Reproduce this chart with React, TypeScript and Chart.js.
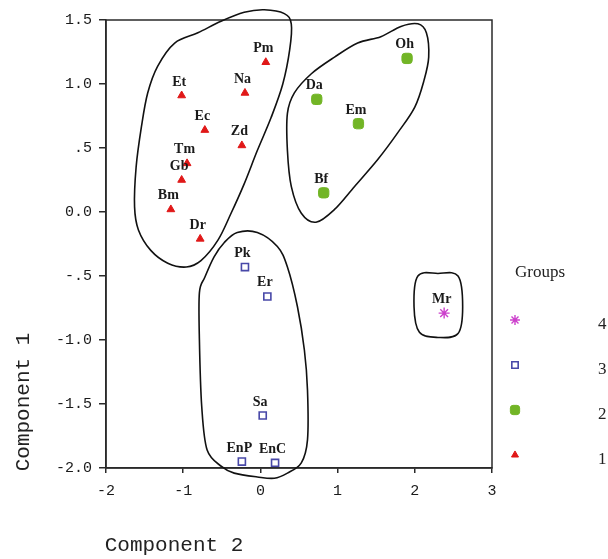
import React, { useEffect, useRef } from 'react';
import { Chart, registerables } from 'chart.js';
import { drawPoint } from 'chart.js/helpers';

Chart.register(...registerables);

// ---- data ----
const group1Names = ['Pm', 'Et', 'Na', 'Ec', 'Zd', 'Tm', 'Gb', 'Bm', 'Dr'];
const group1X = [0.07, -1.02, -0.2, -0.72, -0.24, -0.95, -1.02, -1.16, -0.78];
const group1Y = [1.17, 0.91, 0.93, 0.64, 0.52, 0.38, 0.25, 0.02, -0.21];

const group2Names = ['Oh', 'Da', 'Em', 'Bf'];
const group2X = [1.9, 0.73, 1.27, 0.82];
const group2Y = [1.2, 0.88, 0.69, 0.15];

const group3Names = ['Pk', 'Er', 'Sa', 'EnP', 'EnC'];
const group3X = [-0.2, 0.09, 0.03, -0.24, 0.19];
const group3Y = [-0.43, -0.66, -1.59, -1.95, -1.96];

const group4Names = ['Mr'];
const group4X = [2.38];
const group4Y = [-0.79];

const groupLabels = ['1', '2', '3', '4'];

const xTickValues = [-2, -1, 0, 1, 2, 3];
const yTickValues = [1.5, 1.0, 0.5, 0.0, -0.5, -1.0, -1.5, -2.0];
const yTickLabels = ['1.5', '1.0', '.5', '0.0', '-.5', '-1.0', '-1.5', '-2.0'];

// hand-drawn cluster outlines (data coordinates)
const outline1 = [
  [0.05, 1.58], [0.31, 1.55], [0.4, 1.47], [0.38, 1.27], [0.29, 1.0], [0.14, 0.74],
  [-0.04, 0.48], [-0.21, 0.22], [-0.38, -0.01], [-0.55, -0.22], [-0.77, -0.38],
  [-0.96, -0.43], [-1.2, -0.4], [-1.42, -0.3], [-1.58, -0.14], [-1.63, 0.04],
  [-1.61, 0.35], [-1.54, 0.67], [-1.46, 0.93], [-1.33, 1.14], [-1.11, 1.32],
  [-0.81, 1.4], [-0.51, 1.49], [-0.21, 1.56],
];
const outline2 = [
  [2.04, 1.47], [2.15, 1.4], [2.18, 1.21], [2.12, 1.03], [2.0, 0.82], [1.78, 0.62],
  [1.52, 0.41], [1.22, 0.2], [0.96, 0.02], [0.72, -0.08], [0.53, -0.01], [0.4, 0.2],
  [0.35, 0.48], [0.35, 0.77], [0.44, 0.93], [0.66, 1.08], [0.96, 1.21], [1.26, 1.32],
  [1.56, 1.37], [1.82, 1.45],
];
const outline3 = [
  [-0.3, -0.16], [-0.04, -0.16], [0.22, -0.27], [0.35, -0.43], [0.48, -0.74],
  [0.57, -1.08], [0.61, -1.39], [0.61, -1.78], [0.53, -1.96], [0.35, -2.04],
  [0.18, -2.08], [-0.04, -2.07], [-0.34, -2.04], [-0.5, -1.99], [-0.69, -1.86],
  [-0.76, -1.52], [-0.79, -1.0], [-0.79, -0.63], [-0.72, -0.51], [-0.6, -0.35],
  [-0.47, -0.24],
];
const outline4 = [
  [2.04, -0.5], [2.3, -0.48], [2.56, -0.5], [2.62, -0.74], [2.56, -0.95],
  [2.3, -0.98], [2.06, -0.94], [1.99, -0.74],
];

const names = [group1Names, group2Names, group3Names, group4Names];
const outlines = [outline1, outline2, outline3, outline4];

const toPoints = (xs: number[], ys: number[]) => xs.map((x, i) => ({ x, y: ys[i] }));

const MONO = '"Liberation Mono", "DejaVu Sans Mono", monospace';
const SERIF = '"Liberation Serif", "DejaVu Serif", serif';

const decorPlugin = {
  id: 'decor',
  afterDatasetsDraw(chart: any) {
    const { ctx, chartArea: a, scales } = chart;
    const xs = scales.x;
    const ys = scales.y;
    ctx.save();

    // frame
    ctx.strokeStyle = '#2a2a2a';
    ctx.lineWidth = 1.5;
    ctx.strokeRect(a.left, a.top, a.right - a.left, a.bottom - a.top);

    // outlines: closed Catmull-Rom splines
    ctx.strokeStyle = '#111';
    ctx.lineWidth = 1.6;
    outlines.forEach((pts) => {
      const p = pts.map(([vx, vy]) => [xs.getPixelForValue(vx), ys.getPixelForValue(vy)]);
      const n = p.length;
      ctx.beginPath();
      ctx.moveTo(p[0][0], p[0][1]);
      for (let i = 0; i < n; i++) {
        const p0 = p[(i - 1 + n) % n];
        const p1 = p[i];
        const p2 = p[(i + 1) % n];
        const p3 = p[(i + 2) % n];
        const c1x = p1[0] + (p2[0] - p0[0]) / 6;
        const c1y = p1[1] + (p2[1] - p0[1]) / 6;
        const c2x = p2[0] - (p3[0] - p1[0]) / 6;
        const c2y = p2[1] - (p3[1] - p1[1]) / 6;
        ctx.bezierCurveTo(c1x, c1y, c2x, c2y, p2[0], p2[1]);
      }
      ctx.closePath();
      ctx.stroke();
    });

    // point labels
    ctx.fillStyle = '#1a1a1a';
    ctx.font = `bold 14px ${SERIF}`;
    ctx.textAlign = 'center';
    ctx.textBaseline = 'alphabetic';
    chart.data.datasets.forEach((ds: any, di: number) => {
      const meta = chart.getDatasetMeta(di);
      meta.data.forEach((el: any, i: number) => {
        ctx.fillText(names[di][i], el.x - 2.5, el.y - 10);
      });
    });

    // axis titles
    ctx.fillStyle = '#222';
    ctx.font = `21px ${MONO}`;
    ctx.textAlign = 'center';
    ctx.textBaseline = 'middle';
    ctx.fillText('Component 2', 174, 545);
    ctx.save();
    ctx.translate(23, 402);
    ctx.rotate(-Math.PI / 2);
    ctx.fillText('Component 1', 0, 0);
    ctx.restore();

    // legend
    ctx.font = `17px ${SERIF}`;
    ctx.textAlign = 'left';
    ctx.fillText('Groups', 515, 273);
    const legendY = [455, 410, 365, 320];
    chart.data.datasets.forEach((ds: any, di: number) => {
      const ly = legendY[di];
      ctx.save();
      ctx.fillStyle = ds.pointBackgroundColor;
      ctx.strokeStyle = ds.pointBorderColor;
      ctx.lineWidth = ds.pointBorderWidth;
      drawPoint(ctx, { pointStyle: ds.pointStyle, radius: ds.pointRadius * 0.9, rotation: 0, borderWidth: ds.pointBorderWidth }, 515, ly);
      ctx.restore();
      ctx.fillStyle = '#222';
      ctx.font = `17px ${SERIF}`;
      ctx.fillText(groupLabels[di], 598, ly + 5);
    });

    ctx.restore();
  },
};

export default function App() {
  const ref = useRef<HTMLCanvasElement | null>(null);

  useEffect(() => {
    if (!ref.current) return;
    const chart = new Chart(ref.current, {
      type: 'scatter',
      data: {
        datasets: [
          {
            label: groupLabels[0],
            data: toPoints(group1X, group1Y),
            pointStyle: 'triangle',
            pointRadius: 4.5,
            pointBackgroundColor: '#e01818',
            pointBorderColor: '#e01818',
            pointBorderWidth: 1,
          },
          {
            label: groupLabels[1],
            data: toPoints(group2X, group2Y),
            pointStyle: 'rectRounded',
            pointRadius: 6,
            pointBackgroundColor: '#72b526',
            pointBorderColor: '#72b526',
            pointBorderWidth: 1,
          },
          {
            label: groupLabels[2],
            data: toPoints(group3X, group3Y),
            pointStyle: 'rect',
            pointRadius: 5,
            pointBackgroundColor: '#ffffff',
            pointBorderColor: '#4848a8',
            pointBorderWidth: 1.6,
          },
          {
            label: groupLabels[3],
            data: toPoints(group4X, group4Y),
            pointStyle: 'star',
            pointRadius: 5.5,
            pointBackgroundColor: '#cc40cc',
            pointBorderColor: '#cc40cc',
            pointBorderWidth: 1.4,
          },
        ] as any,
      },
      options: {
        animation: false,
        responsive: false,
        events: [],
        layout: { padding: { left: 0, top: 20, right: 116, bottom: 0 } },
        plugins: { legend: { display: false }, tooltip: { enabled: false } },
        scales: {
          x: {
            type: 'linear',
            min: -2,
            max: 3,
            afterFit: (s: any) => { s.height = 91; },
            afterBuildTicks: (s: any) => { s.ticks = xTickValues.map((v) => ({ value: v })); },
            ticks: {
              color: '#1a1a1a',
              font: { family: MONO, size: 15 },
              padding: 9,
              callback: (v: any) => String(v),
            },
            grid: { drawOnChartArea: false, drawTicks: true, tickLength: 5, color: '#2a2a2a', lineWidth: 1.5 },
            border: { display: true, color: '#2a2a2a', width: 1.5 },
          },
          y: {
            type: 'linear',
            min: -2,
            max: 1.5,
            afterFit: (s: any) => { s.width = 106; },
            afterBuildTicks: (s: any) => { s.ticks = yTickValues.map((v) => ({ value: v })); },
            ticks: {
              color: '#1a1a1a',
              font: { family: MONO, size: 15 },
              padding: 7,
              callback: (v: any) => {
                const idx = yTickValues.findIndex((t) => Math.abs(t - v) < 1e-9);
                return idx >= 0 ? yTickLabels[idx] : '';
              },
            },
            grid: { drawOnChartArea: false, drawTicks: true, tickLength: 7, color: '#2a2a2a', lineWidth: 1.5 },
            border: { display: true, color: '#2a2a2a', width: 1.5 },
          },
        },
      } as any,
      plugins: [decorPlugin],
    });
    return () => chart.destroy();
  }, []);

  return (
    <div style={{ position: 'absolute', left: 0, top: 0, width: 608, height: 559, background: '#fff' }}>
      <canvas ref={ref} width={608} height={559} style={{ display: 'block' }} />
    </div>
  );
}
